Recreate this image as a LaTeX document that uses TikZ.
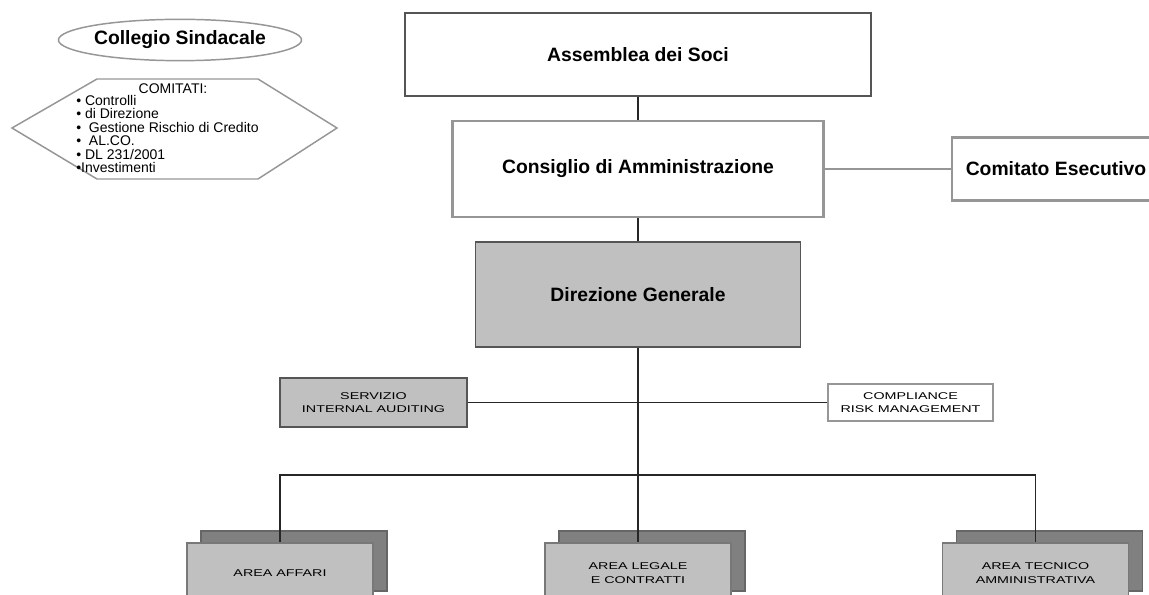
\documentclass[tikz,border=0pt]{standalone}
\usepackage{fontspec}
\setmainfont{Liberation Sans}
\newfontfamily\widefont[FakeStretch=1.45]{Liberation Sans}
\usepackage{tikz}
\usetikzlibrary{shapes.geometric,shadows}
\definecolor{BoxGray}{RGB}{192,192,192}
\definecolor{ShadeGray}{RGB}{128,128,128}
\definecolor{EdgeGray}{RGB}{150,150,150}
\definecolor{EdgeDark}{RGB}{85,85,85}

\begin{document}
\begin{tikzpicture}[x=0.75pt,y=-0.75pt,
  organ/.style={draw=EdgeDark,line width=1.1pt,fill=white,inner sep=0pt,
                font=\fontsize{14.5}{17}\selectfont\bfseries},
  board/.style={organ,draw=EdgeGray,line width=2pt},
  unit/.style={draw=EdgeDark,line width=1.3pt,inner sep=0pt,align=center,
               font=\widefont\fontsize{7.4}{9.5}\selectfont},
  area/.style={unit,fill=BoxGray,draw=EdgeGray!80!black,line width=1pt,
               minimum width=139.5pt,minimum height=45pt,
               font=\widefont\fontsize{7.4}{11}\selectfont,
               drop shadow={shadow xshift=10.5pt,shadow yshift=9pt,
                            fill=ShadeGray,draw=ShadeGray!80!black,opacity=1}},
  link/.style={draw=black!85,line width=1.1pt},
]
\useasboundingbox (0,0) rectangle (1149,595);
\clip (0,0) rectangle (1149,595);

\node[organ,ellipse,draw=EdgeGray,minimum width=175.5pt,minimum height=31pt] (collegio) at (180,40) {Collegio Sindacale};
\draw[draw=EdgeGray,line width=1.1pt] (12,128) -- (97,79) -- (258,79) -- (337,128) -- (258,179) -- (97,179) -- cycle;
\node[font=\fontsize{10.5}{10.1}\selectfont,inner sep=0pt] (comitati) at (173,89) {COMITATI:};
\node[font=\fontsize{10.5}{10.1}\selectfont,inner sep=0pt,align=left,anchor=north west] (elenco) at (76,95)
  {• Controlli\\• di Direzione\\•\ \ Gestione Rischio di Credito\\•\ \ AL.CO.\\• DL 231/2001\\•Investimenti};

\node[organ,minimum width=349.5pt,minimum height=62.25pt] (assemblea) at (638,54.5) {Assemblea dei Soci};
\node[board,minimum width=278.25pt,minimum height=72pt] (consiglio) at (638,169) {Consiglio di Amministrazione};
\node[board,minimum width=156pt,minimum height=47.25pt] (comitato) at (1056,169) {Comitato Esecutivo};
\node[organ,fill=BoxGray,minimum width=243.75pt,minimum height=78.75pt] (direzione) at (638,294.5) {Direzione Generale};

\node[unit,fill=BoxGray,minimum width=140.25pt,minimum height=36.75pt] (servizio) at (373.5,402.5) {SERVIZIO\\INTERNAL AUDITING};
\node[unit,draw=EdgeGray,line width=1.5pt,minimum width=123.75pt,minimum height=27.75pt] (compliance) at (910.5,402.5) {COMPLIANCE\\RISK MANAGEMENT};

\node[area] (affari) at (280,573) {AREA AFFARI};
\node[area] (legale) at (638,573) {AREA LEGALE\\E CONTRATTI};
\node[area] (tecnico) at (1035.5,573) {AREA TECNICO\\AMMINISTRATIVA};

\coordinate (bus) at (638,475);

\draw[link] (assemblea) -- (consiglio);
\draw[link,draw=EdgeGray,line width=2pt] (consiglio) -- (comitato);
\draw[link] (consiglio) -- (direzione);
\draw[link] (direzione) -- (legale);
\draw[link] (servizio) -- (compliance);
\draw[link] (affari.north) |- (bus) -| (tecnico.north);
\end{tikzpicture}
\end{document}
